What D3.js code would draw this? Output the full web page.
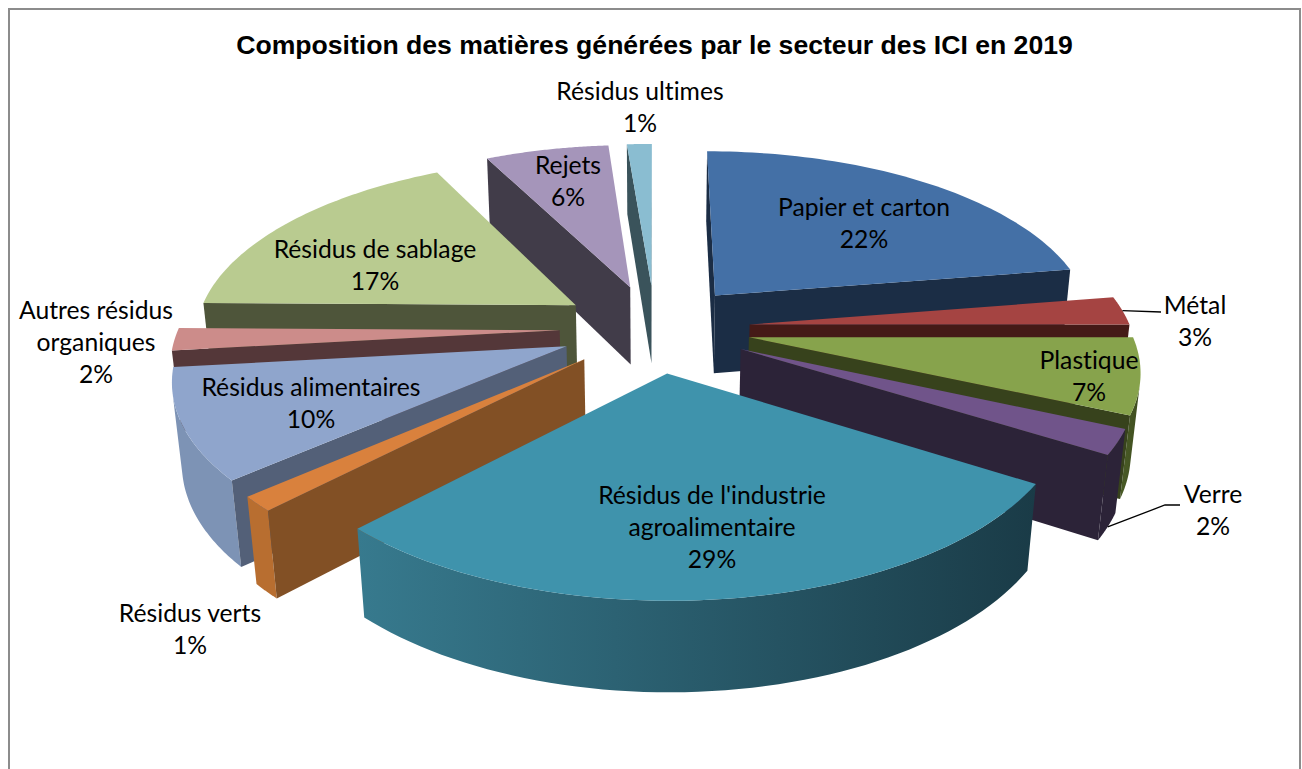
<!DOCTYPE html>
<html>
<head>
<meta charset="utf-8">
<script src="https://d3js.org/d3.v7.min.js"></script>
<style>
html, body { margin: 0; padding: 0; background: #fff; overflow: hidden; }
</style>
</head>
<body>
<script>
var titleText = "Composition des matières générées par le secteur des ICI en 2019";

// slices clockwise from 12 o'clock
var categories = [
  ["Papier et carton"], ["Métal"], ["Plastique"], ["Verre"],
  ["Résidus de l'industrie", "agroalimentaire"], ["Résidus verts"], ["Résidus alimentaires"],
  ["Autres résidus", "organiques"], ["Résidus de sablage"], ["Rejets"], ["Résidus ultimes"]
];
// arc shares as measured on the drawing
var values = [22.45, 2.55, 6.7, 2.2, 28.3, 1.3, 9.7, 2, 17.35, 6.2, 1.25];
// percentages as printed on the chart
var printed = ["22%", "3%", "7%", "2%", "29%", "1%", "10%", "2%", "17%", "6%", "1%"];

var topColors  = ["#4470a6", "#a54442", "#87a34c", "#70548a", "#3f93ac", "#d9813d", "#8fa5cc", "#cc8c8a", "#b9cb90", "#a595ba", "#8abdd1"];
var wallColors = ["#1b2d45", "#451a17", "#37421c", "#2c2338", "#1a3c48", "#825025", "#536078", "#543739", "#4e553a", "#413c49", "#3a535b"];
var rimLeft    = ["#2c4a6e", "#6e2d2b", "#4a5c26", "#2c2338", "#377a8e", "#b86e30", "#7d93b5", "#8a5e5c", "#7b8860", "#6e637c", "#5c7e8b"];
var rimRight   = ["#2c4a6e", "#6e2d2b", "#3f4d20", "#2c2338", "#1a3b47", "#b86e30", "#7d93b5", "#8a5e5c", "#7b8860", "#6e637c", "#5c7e8b"];

// label centres (x, y of first line)
var labelX = [864, 1195, 1089, 1213, 712, 190, 311, 96, 375, 568, 640];
var labelY = [207, 305, 360, 494, 495, 613, 387, 310, 249, 165, 91];

var width = 1302, height = 769;
var lineHeight = 32.4;

// perspective of the pie plane, fitted by eye
var cx = 655, cy = 328;
var kx = 381, ky = 176, persp = 0.156;
var depthY = 81, depthScale = 0.02;
var explode = 0.25;

// X right, Y towards viewer, z 0 = top face, 1 = bottom face
var project = function(X, Y, z){
  var w = 1 - persp * Y + depthScale * z;
  return [cx + kx * X / w, cy + (ky * Y + depthY * z) / w];
};

var svg = d3.select("body").append("svg")
  .attr("width", width)
  .attr("height", height)
  .style("display", "block");

var defs = svg.append("defs");

svg.append("rect")
  .attr("x", 9).attr("y", 9)
  .attr("width", 1291).attr("height", 800)
  .attr("fill", "#fff")
  .attr("stroke", "#8c8c8c")
  .attr("stroke-width", 2);

svg.append("text")
  .attr("x", 654.5).attr("y", 54)
  .attr("text-anchor", "middle")
  .attr("font-family", "'Liberation Sans', Arial, sans-serif")
  .attr("font-weight", "bold")
  .attr("font-size", "26.6px")
  .attr("fill", "#000")
  .text(titleText);

var pie = d3.pie().sort(null).value(function(d){ return d; });
var arcs = pie(values).map(function(a, i){
  var mid = (a.startAngle + a.endAngle) / 2;
  return {
    i: i,
    a0: a.startAngle,
    a1: a.endAngle,
    ox: explode * Math.sin(mid),
    oy: -explode * Math.cos(mid)
  };
});

// point of a slice: r is radius inside the slice, t the angle
var slicePoint = function(s, t, r, z){
  return project(s.ox + r * Math.sin(t), s.oy - r * Math.cos(t), z);
};

var line = d3.line();
var ringPath = function(pts){ return line(pts) + "Z"; };

// back slices first
var order = arcs.slice().sort(function(p, q){ return d3.ascending(p.oy, q.oy); });

var gSlices = svg.append("g");

order.forEach(function(s){
  var g = gSlices.append("g");
  var angles = d3.range(0, 61).map(function(k){ return s.a0 + (s.a1 - s.a0) * k / 60; });

  // rim: only keep the part that faces the camera
  var seen = angles.slice(0, -1).map(function(t, k){
    var t2 = angles[k + 1];
    var quad = [slicePoint(s, t, 1, 0), slicePoint(s, t2, 1, 0), slicePoint(s, t2, 1, 1), slicePoint(s, t, 1, 1)];
    return d3.polygonArea(quad) > 0 ? k : -1;
  }).filter(function(k){ return k >= 0; });

  if (seen.length > 0){
    var used = angles.slice(seen[0], seen[seen.length - 1] + 2);
    var upper = used.map(function(t){ return slicePoint(s, t, 1, 0); });
    var lower = used.map(function(t){ return slicePoint(s, t, 1, 1); }).reverse();
    var rimPts = upper.concat(lower);
    var xs = d3.extent(rimPts, function(p){ return p[0]; });
    var gid = "rim" + s.i;
    var grad = defs.append("linearGradient")
      .attr("id", gid)
      .attr("gradientUnits", "userSpaceOnUse")
      .attr("x1", xs[0]).attr("x2", xs[1])
      .attr("y1", 0).attr("y2", 0);
    grad.append("stop").attr("offset", "0%").attr("stop-color", rimLeft[s.i]);
    grad.append("stop").attr("offset", "100%").attr("stop-color", rimRight[s.i]);
    g.append("path").attr("d", ringPath(rimPts)).attr("fill", "url(#" + gid + ")");
  }

  // the two cut walls
  var walls = [
    [slicePoint(s, s.a0, 0, 0), slicePoint(s, s.a0, 1, 0), slicePoint(s, s.a0, 1, 1), slicePoint(s, s.a0, 0, 1)],
    [slicePoint(s, s.a1, 1, 0), slicePoint(s, s.a1, 0, 0), slicePoint(s, s.a1, 0, 1), slicePoint(s, s.a1, 1, 1)]
  ];
  walls.forEach(function(w){
    if (d3.polygonArea(w) > 0){
      g.append("path").attr("d", ringPath(w)).attr("fill", wallColors[s.i]);
    }
  });

  // top face
  var face = [slicePoint(s, s.a0, 0, 0)].concat(angles.map(function(t){ return slicePoint(s, t, 1, 0); }));
  g.append("path").attr("d", ringPath(face)).attr("fill", topColors[s.i]);
});

// leader lines for Métal and Verre
var leaderMetal = slicePoint(arcs[1], (arcs[1].a0 + arcs[1].a1) / 2, 1, 0);
var leaderVerre = slicePoint(arcs[3], (arcs[3].a0 + arcs[3].a1) / 2, 1, 1);
svg.append("path")
  .attr("d", line([leaderMetal, [labelX[1] - 34, labelY[1] + 7]]))
  .attr("fill", "none").attr("stroke", "#000").attr("stroke-width", 1.3);
svg.append("path")
  .attr("d", line([leaderVerre, [labelX[3] - 48, labelY[3] + 11], [labelX[3] - 33, labelY[3] + 11]]))
  .attr("fill", "none").attr("stroke", "#000").attr("stroke-width", 1.3);

// labels
var labels = svg.append("g")
  .attr("font-family", "Lato, 'Open Sans', sans-serif")
  .attr("font-size", "24.7px")
  .attr("fill", "#000")
  .attr("text-anchor", "middle")
  .style("font-variant-ligatures", "none");

categories.forEach(function(lines, i){
  var rows = lines.concat([printed[i]]);
  rows.forEach(function(row, j){
    labels.append("text")
      .attr("x", labelX[i])
      .attr("y", labelY[i] + j * lineHeight)
      .attr("dy", "0.35em")
      .text(row);
  });
});
</script>
</body>
</html>
